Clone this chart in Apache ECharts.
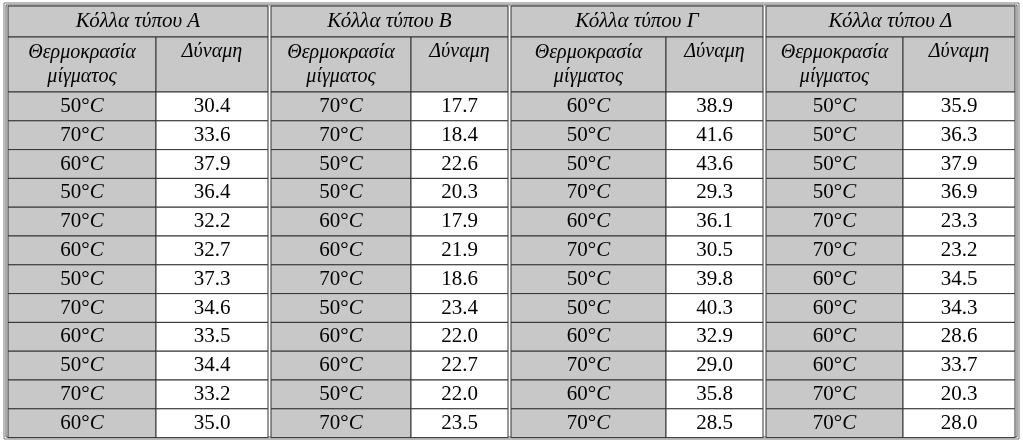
<!DOCTYPE html>
<html><head><meta charset="utf-8">
<script src="https://cdn.jsdelivr.net/npm/echarts@6/dist/echarts.min.js"></script>
<style>html,body{margin:0;background:#fff}#c{width:1023px;height:445px}</style></head>
<body><div id="c"></div>
<script>
const groups = ['Κόλλα τύπου Α','Κόλλα τύπου Β','Κόλλα τύπου Γ','Κόλλα τύπου Δ'];
const subHeaders = ['Θερμοκρασία\nμίγματος','Δύναμη'];
const tempA = [50,70,60,50,70,60,50,70,60,50,70,60];
const valA = [30.4,33.6,37.9,36.4,32.2,32.7,37.3,34.6,33.5,34.4,33.2,35.0];
const tempB = [70,70,50,50,60,60,70,50,60,60,50,70];
const valB = [17.7,18.4,22.6,20.3,17.9,21.9,18.6,23.4,22.0,22.7,22.0,23.5];
const tempG = [60,50,50,70,60,70,50,50,60,70,60,70];
const valG = [38.9,41.6,43.6,29.3,36.1,30.5,39.8,40.3,32.9,29.0,35.8,28.5];
const tempD = [50,50,50,50,70,70,60,60,60,60,70,70];
const valD = [35.9,36.3,37.9,36.9,23.3,23.2,34.5,34.3,28.6,33.7,20.3,28.0];
const temps=[tempA,tempB,tempG,tempD], vals=[valA,valB,valG,valD];

const colX=[[8,156,268],[271,411,508],[511,666,763],[766,903,1015]];
const tTop=6, h1=31, h2=55, rowH=28.8;
const font='"Liberation Serif","Times New Roman",serif';
const gray='#c8c8c8', line='#333';
const els=[];
function cell(x,y,w,h,fill){els.push({type:'rect',shape:{x,y,width:w,height:h},style:{fill,stroke:line,lineWidth:1}});}
function txt(cx,cy,t,opt){els.push({type:'text',x:cx,y:cy,style:Object.assign({text:t,align:'center',verticalAlign:'middle',font:'20px '+font,fill:'#000'},opt||{})});}
els.push({type:'rect',shape:{x:4,y:3,width:1015,height:436},style:{fill:'none',stroke:'#777',lineWidth:1}});
els.push({type:'rect',shape:{x:6,y:5,width:1011,height:432},style:{fill:'none',stroke:'#555',lineWidth:1}});
groups.forEach((g,gi)=>{
  const [x0,x1,x2]=colX[gi];
  cell(x0,tTop,x2-x0,h1,gray);
  txt((x0+x2)/2,tTop+h1/2,g,{font:'italic 21px '+font});
  cell(x0,tTop+h1,x1-x0,h2,gray);
  cell(x1,tTop+h1,x2-x1,h2,gray);
  txt((x0+x1)/2,tTop+h1+h2/2,subHeaders[0],{font:'italic 20px '+font,lineHeight:24});
  txt((x1+x2)/2,tTop+h1+15,subHeaders[1],{font:'italic 20px '+font});
  temps[gi].forEach((t,i)=>{
    const y=tTop+h1+h2+i*rowH;
    cell(x0,y,x1-x0,rowH,gray);
    cell(x1,y,x2-x1,rowH,'#fff');
    els.push({type:'text',x:(x0+x1)/2,y:y+rowH/2,style:{text:'{n|'+t+'°}{i|C}',align:'center',verticalAlign:'middle',rich:{n:{font:'21px '+font},i:{font:'italic 21px '+font}}}});
    txt((x1+x2)/2,y+rowH/2,vals[gi][i].toFixed(1),{font:'21px '+font});
  });
});
const chart=echarts.init(document.getElementById('c'));
chart.setOption({animation:false,graphic:{elements:els}});
</script></body></html>
